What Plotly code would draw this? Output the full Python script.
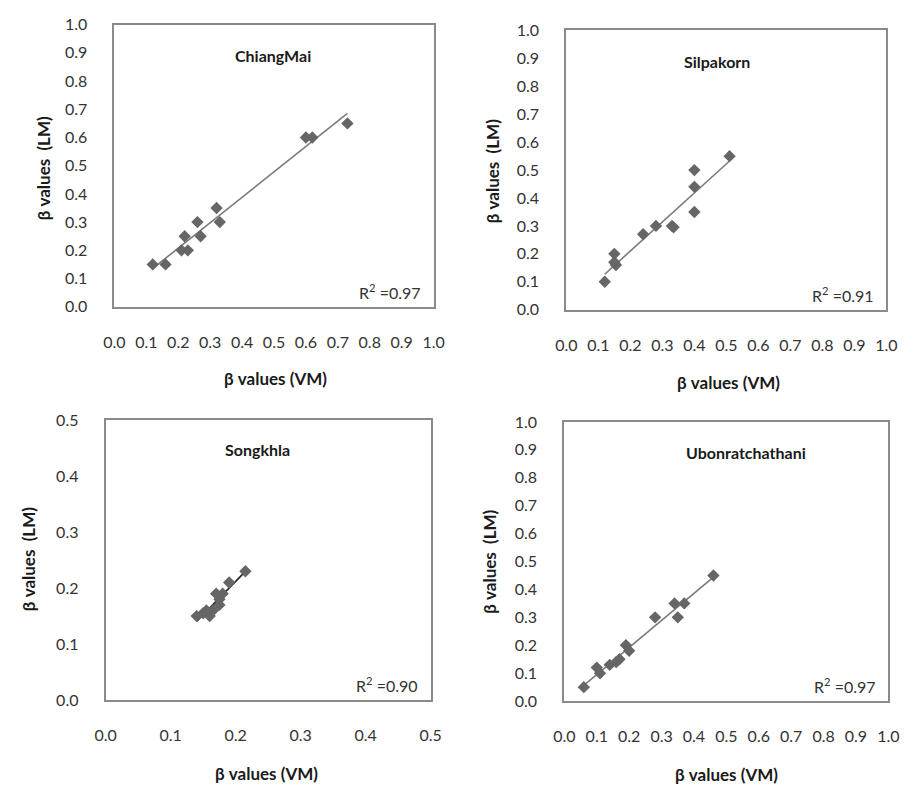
import numpy as np
import plotly.graph_objects as go

W, H = 915, 797

# ---------------- data ----------------
names = ["ChiangMai", "Silpakorn", "Songkhla", "Ubonratchathani"]
r2_labels = ["0.97", "0.91", "0.90", "0.97"]

x1 = [0.12, 0.16, 0.22, 0.21, 0.23, 0.26, 0.27, 0.32, 0.33, 0.60, 0.62, 0.73]
y1 = [0.15, 0.15, 0.25, 0.20, 0.20, 0.30, 0.25, 0.35, 0.30, 0.60, 0.60, 0.65]

x2 = [0.12, 0.15, 0.15, 0.155, 0.24, 0.28, 0.33, 0.335, 0.40, 0.40, 0.40, 0.51]
y2 = [0.10, 0.20, 0.17, 0.16, 0.27, 0.30, 0.30, 0.295, 0.50, 0.44, 0.35, 0.55]

x3 = [0.14, 0.15, 0.155, 0.16, 0.165, 0.17, 0.175, 0.175, 0.18, 0.19, 0.215]
y3 = [0.15, 0.155, 0.16, 0.15, 0.16, 0.19, 0.17, 0.18, 0.19, 0.21, 0.23]

x4 = [0.06, 0.10, 0.11, 0.14, 0.16, 0.17, 0.19, 0.20, 0.28, 0.34, 0.35, 0.37, 0.46]
y4 = [0.05, 0.12, 0.10, 0.13, 0.14, 0.15, 0.20, 0.18, 0.30, 0.35, 0.30, 0.35, 0.45]

tick_full = [round(i * 0.1, 1) for i in range(11)]
tick_half = [round(i * 0.1, 1) for i in range(6)]

xs = [x1, x2, x3, x4]
ys = [y1, y2, y3, y4]
ranges = [1.0, 1.0, 0.5, 1.0]
tick_sets = [tick_full, tick_full, tick_half, tick_full]

# ---------------- layout geometry (pixels) ----------------
# (x_left, x_right, y_top, y_bottom) of each plot area
boxes = [
    (106, 433, 15, 304),
    (569, 897, 21, 307),
    (97, 430, 420, 707),
    (567, 899, 422, 708),
]
ytitle_pos = [(33, 162), (493, 165), (18, 563), (490, 565)]
xtitle_pos = [(271, 378), (735, 382), (262, 782), (733, 783)]
name_pos = [(268, 47), (723, 53), (253, 450), (753, 453)]

FONT = "Lato, 'Open Sans', sans-serif"
marker_color = "#666666"
line_colors = ["#7a7a7a", "#7a7a7a", "#222222", "#7a7a7a"]

fig = go.Figure()
annotations = []
layout = {}

for i in range(4):
    k = "" if i == 0 else str(i + 1)
    xl, xr, yt, yb = boxes[i]
    xa = dict(
        domain=[xl / W, xr / W],
        range=[0, ranges[i]],
        tickvals=tick_sets[i],
        ticktext=[f"{v:.1f}" for v in tick_sets[i]],
        showgrid=False, zeroline=False,
        showline=True, mirror=True, linecolor="#8a8a8a", linewidth=2,
        ticks="", ticklabelstandoff=20,
        tickfont=dict(family=FONT, size=16, color="#333333"),
        anchor="y" + k, fixedrange=True,
    )
    ya = dict(
        domain=[1 - yb / H, 1 - yt / H],
        range=[0, ranges[i]],
        tickvals=tick_sets[i],
        ticktext=[f"{v:.1f}" for v in tick_sets[i]],
        showgrid=False, zeroline=False,
        showline=True, mirror=True, linecolor="#8a8a8a", linewidth=2,
        ticks="", ticklabelstandoff=22,
        tickfont=dict(family=FONT, size=16, color="#333333"),
        anchor="x" + k, fixedrange=True,
    )
    layout["xaxis" + k] = xa
    layout["yaxis" + k] = ya

    xv = np.array(xs[i])
    yv = np.array(ys[i])
    slope, inter = np.polyfit(xv, yv, 1)
    lx = np.array([xv.min(), xv.max()])
    fig.add_trace(go.Scatter(
        x=lx, y=slope * lx + inter, mode="lines",
        line=dict(color=line_colors[i], width=1.6),
        xaxis="x" + k, yaxis="y" + k, showlegend=False, hoverinfo="skip"))
    fig.add_trace(go.Scatter(
        x=xv, y=yv, mode="markers",
        marker=dict(symbol="diamond", size=9.5, color=marker_color),
        xaxis="x" + k, yaxis="y" + k, showlegend=False))

    # panel name
    annotations.append(dict(
        text=f"<b>{names[i]}</b>", x=name_pos[i][0] / W, y=1 - name_pos[i][1] / H,
        xref="paper", yref="paper", showarrow=False, xanchor="center", yanchor="middle",
        font=dict(family=FONT, size=16, color="#1a1a1a")))
    # R^2
    annotations.append(dict(
        text=f"R<sup>2</sup> =" + r2_labels[i], x=(xr - 11) / W, y=1 - (yb - 16) / H,
        xref="paper", yref="paper", showarrow=False, xanchor="right", yanchor="middle",
        font=dict(family=FONT, size=16, color="#333333")))
    # axis titles
    annotations.append(dict(
        text="<b>β values  (LM)</b>", x=ytitle_pos[i][0] / W, y=1 - ytitle_pos[i][1] / H,
        xref="paper", yref="paper", showarrow=False, textangle=-90,
        xanchor="center", yanchor="middle",
        font=dict(family=FONT, size=17, color="#1a1a1a")))
    annotations.append(dict(
        text="<b>β values (VM)</b>", x=xtitle_pos[i][0] / W, y=1 - xtitle_pos[i][1] / H,
        xref="paper", yref="paper", showarrow=False,
        xanchor="center", yanchor="middle",
        font=dict(family=FONT, size=17, color="#1a1a1a")))

fig.update_layout(
    width=W, height=H,
    margin=dict(l=0, r=0, t=0, b=0),
    paper_bgcolor="white", plot_bgcolor="white",
    annotations=annotations,
    **layout,
)

fig.write_html("out.html", config={"displayModeBar": False})
